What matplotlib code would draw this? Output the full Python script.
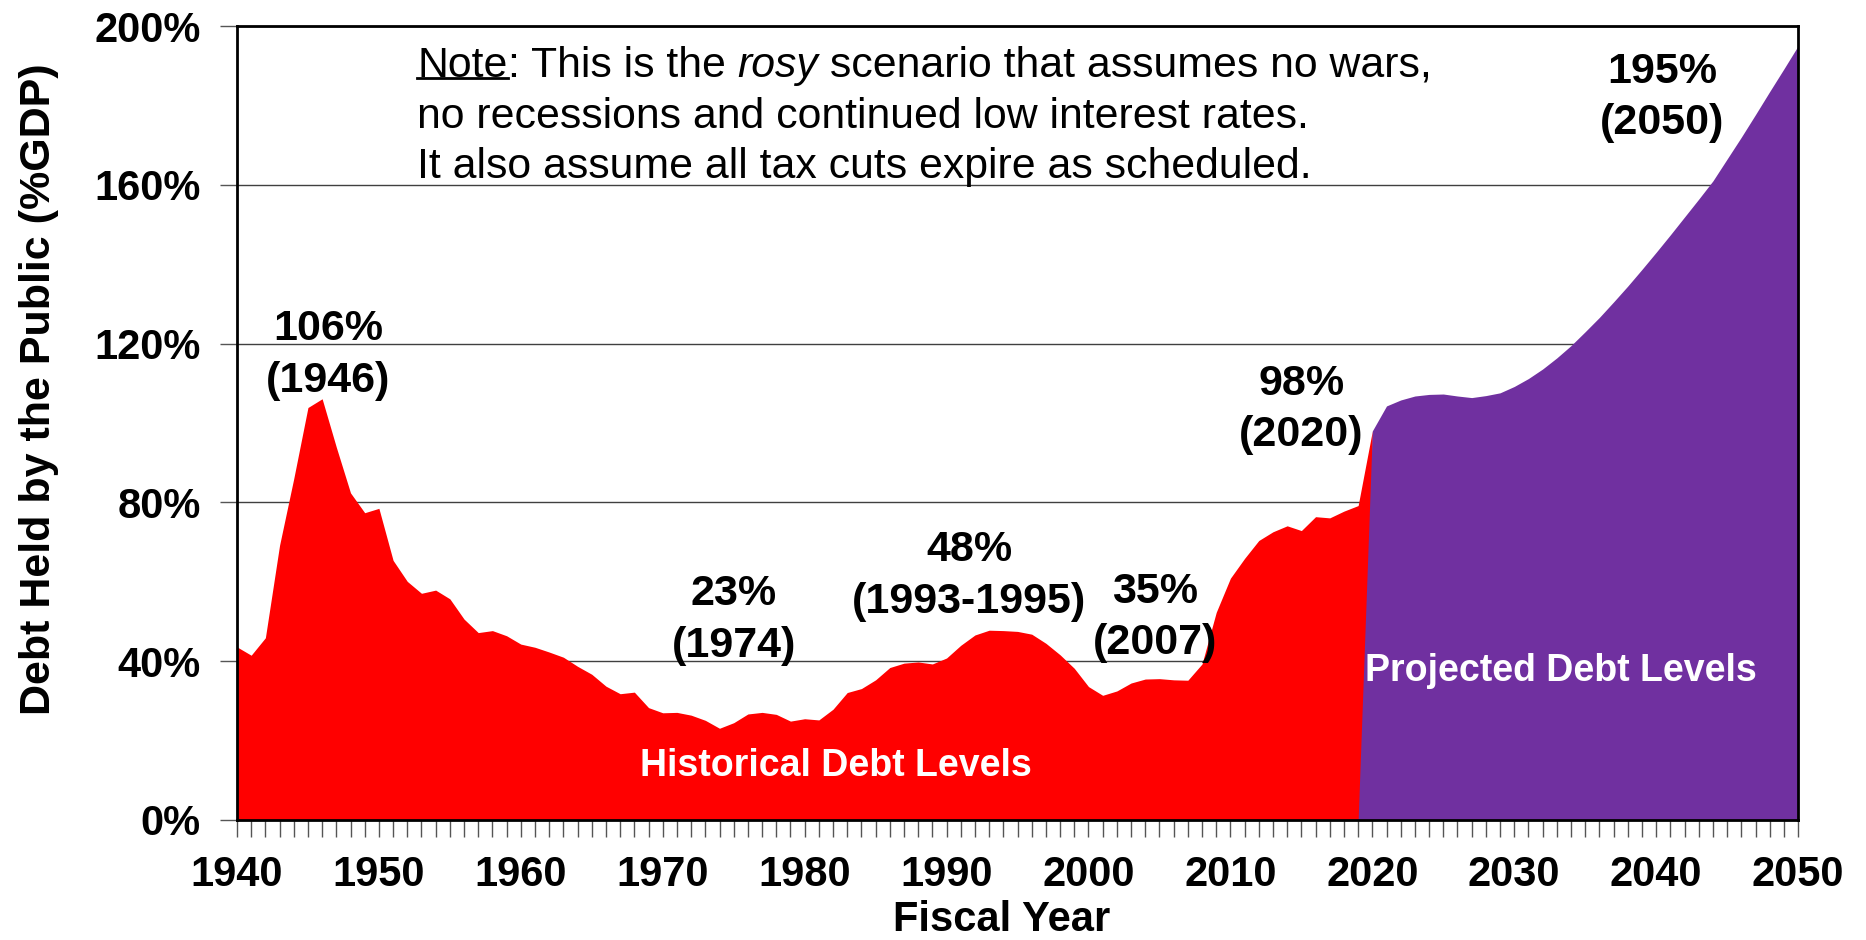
import numpy as np
import matplotlib.pyplot as plt
from matplotlib.ticker import MultipleLocator, FuncFormatter

plt.rcParams['font.family'] = ['Liberation Sans', 'DejaVu Sans']

# debt held by the public, % of GDP
hist_years = list(range(1940, 2021))
hist_debt = [43.6, 41.5, 45.9, 69.2, 86.0, 103.9, 106.1, 93.9, 82.4, 77.4,
             78.5, 65.4, 60.1, 57.1, 57.9, 55.7, 50.6, 47.2, 47.7, 46.4,
             44.3, 43.5, 42.3, 41.0, 38.7, 36.7, 33.7, 31.8, 32.2, 28.3,
             27.0, 27.1, 26.4, 25.1, 23.1, 24.5, 26.7, 27.1, 26.6, 24.9,
             25.5, 25.2, 27.9, 32.1, 33.1, 35.3, 38.4, 39.5, 39.8, 39.3,
             40.8, 44.0, 46.6, 47.8, 47.7, 47.5, 46.8, 44.5, 41.6, 38.2,
             33.6, 31.4, 32.5, 34.5, 35.5, 35.6, 35.3, 35.2, 39.3, 52.3,
             60.9, 65.9, 70.4, 72.6, 74.1, 72.9, 76.4, 76.1, 77.8, 79.2,
             98.0]

proj_years = list(range(2019, 2051))
proj_debt = [0.0, 98.0, 104.3, 105.8, 106.8, 107.2, 107.3, 106.8, 106.4, 106.9,
             107.6, 109.2, 111.2, 113.6, 116.4, 119.5, 123.0, 126.6, 130.5, 134.5,
             138.7, 143.0, 147.4, 151.9, 156.4, 161.0, 166.5, 172.0, 177.7, 183.5,
             189.2, 195.0]

# callouts: x, y of first line, value, year
callout_x = [1946.4, 1975.0, 1991.6, 2004.7, 2015.0, 2040.4]
callout_y = [123.6, 56.8, 67.9, 57.4, 109.8, 188.4]
callout_pct = ['106%', '23%', '48%', '35%', '98%', '195%']
callout_yr = ['(1946)', '(1974)', '(1993-1995)', '(2007)', '(2020)', '(2050)']

red = '#FF0000'
purple = '#7030A0'

fig = plt.figure(figsize=(18.66, 9.40), dpi=100)
ax = fig.add_axes([0.1270, 0.1277, 0.8366, 0.8446])

ax.fill_between(hist_years, hist_debt, color=red, lw=0, zorder=2)
ax.fill_between(proj_years, proj_debt, color=purple, lw=0, zorder=3)

ax.set_xlim(1940, 2050)
ax.set_ylim(0, 200)
ax.yaxis.set_major_locator(MultipleLocator(40))
ax.yaxis.set_major_formatter(FuncFormatter(lambda v, p: f'{v:.0f}%'))
ax.xaxis.set_major_locator(MultipleLocator(10))
ax.xaxis.set_minor_locator(MultipleLocator(1))
ax.grid(axis='y', color='#404040', lw=1.0, zorder=1)
ax.set_axisbelow(True)

for s in ax.spines.values():
    s.set_linewidth(2.0)
    s.set_zorder(5)
ax.tick_params(axis='x', which='both', length=12, width=1.0, color='#555555',
               labelsize=30, pad=13, direction='out')
ax.tick_params(axis='y', length=12, width=1.0, color='#555555',
               labelsize=30, pad=14)
for lab in ax.get_xticklabels() + ax.get_yticklabels():
    lab.set_fontweight('bold')

ax.set_xlabel('Fiscal Year', fontsize=30, fontweight='bold', labelpad=5)
ax.xaxis.set_label_coords(0.49, -0.101)
ax.set_ylabel('Debt Held by the Public (%GDP)', fontsize=31, fontweight='bold')
ax.yaxis.set_label_coords(-0.114, 0.543)

for x, y, p, yr in zip(callout_x, callout_y, callout_pct, callout_yr):
    ax.text(x, y, p, ha='center', va='center', fontsize=31, fontweight='bold', zorder=6)
    ax.text(x, y - 12.9, yr, ha='center', va='center', fontsize=31, fontweight='bold', zorder=6)

ax.text(1982.2, 13.6, 'Historical Debt Levels', ha='center', va='center',
        color='white', fontsize=27, fontweight='bold', zorder=6)
ax.text(2033.3, 37.6, 'Projected Debt Levels', ha='center', va='center',
        color='white', fontsize=27, fontweight='bold', zorder=6)

# note, with underlined "Note" and italic "rosy"
fs = 30.8
t0 = ax.text(1952.7, 190.0, 'Note', ha='left', va='center', fontsize=fs, zorder=6)
t1 = ax.annotate(': This is the ', xy=(1, 0), xycoords=t0, va='bottom', fontsize=fs)
t2 = ax.annotate('rosy', xy=(1, 0), xycoords=t1, va='bottom', fontsize=fs, style='italic')
ax.annotate(' scenario that assumes no wars,', xy=(1, 0), xycoords=t2, va='bottom', fontsize=fs)
ax.text(1952.7, 177.1, 'no recessions and continued low interest rates.',
        ha='left', va='center', fontsize=fs, zorder=6)
ax.text(1952.7, 164.4, 'It also assume all tax cuts expire as scheduled.',
        ha='left', va='center', fontsize=fs, zorder=6)

fig.canvas.draw()
bb = t0.get_window_extent().transformed(fig.transFigure.inverted())
uy = bb.y0 + 0.2 * bb.height
fig.add_artist(plt.Line2D([bb.x0, bb.x1], [uy, uy], color='black', lw=2.0,
                          transform=fig.transFigure))

fig.savefig('out.png', dpi=100)
